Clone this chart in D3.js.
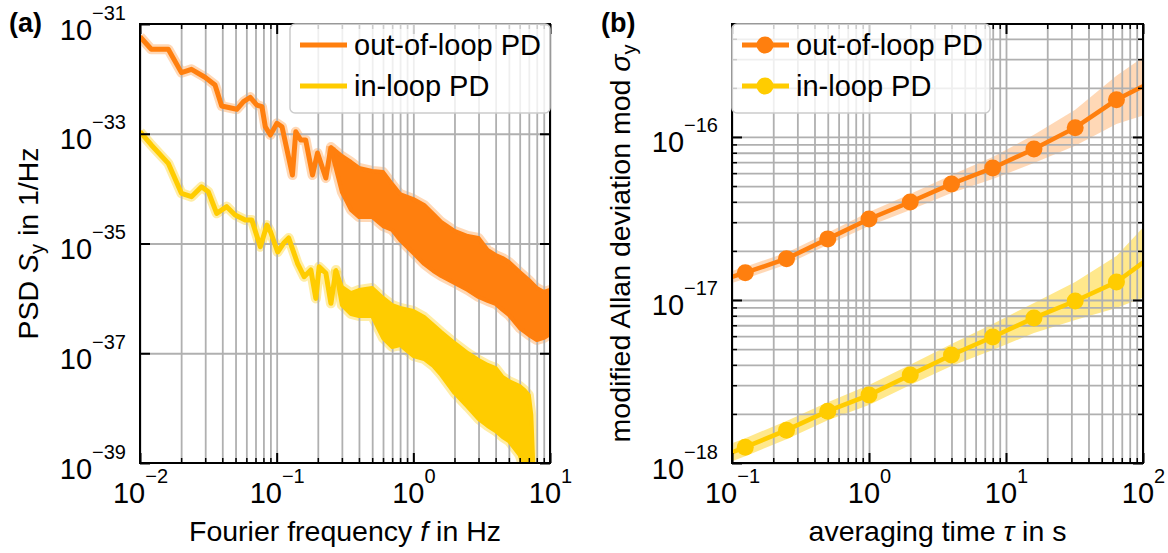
<!DOCTYPE html>
<html><head><meta charset="utf-8">
<script src="https://cdn.jsdelivr.net/npm/d3@7"></script>
<style>
body{margin:0;background:#fff}
text{font-family:"Liberation Sans",Arial,Helvetica,sans-serif;fill:#000}
</style>
</head><body>
<svg id="c" width="1168" height="553"></svg>
<script>
// ---------- DATA ----------
const seriesNames = ["out-of-loop PD", "in-loop PD"];
const seriesColors = ["#ff7f0e", "#ffcc00"];

// (a) PSD: sparse low-frequency part (line)
const psdOutF = [0.0100,0.0121,0.0161,0.0201,0.0238,0.0299,0.0354,0.0396,0.0511,0.0572,0.0641,0.0716,0.0780,0.0826,0.0899,0.1005,0.1094,0.1304,0.138,0.150,0.163,0.183,0.199,0.229,0.250];
const psdOutS = [5.87e-32,3.46e-32,3.46e-32,1.30e-32,1.49e-32,1.07e-32,7.73e-33,3.20e-33,2.79e-33,3.84e-33,4.62e-33,3.34e-33,3.11e-33,1.34e-33,9.49e-34,1.55e-33,1.34e-33,1.77e-34,1.09e-33,7.69e-34,7.69e-34,1.77e-34,4.46e-34,1.56e-34,5.81e-34];
// dense high-frequency part (upper / lower envelope of the noisy trace)
const psdOutDenseF = [0.25,0.3,0.35,0.4,0.5,0.6,0.7,0.8,1.0,1.2,1.4,1.6,2.0,2.5,3,3.5,4,4.5,5,6,7,8,9,10];
const psdOutUp = [5.73e-34,3.93e-34,3.06e-34,2.38e-34,2.10e-34,2.01e-34,1.21e-34,7.98e-35,6.47e-35,5.03e-35,3.45e-35,2.47e-35,1.69e-35,1.37e-35,1.26e-35,7.61e-36,6.17e-36,5.44e-36,4.60e-36,3.02e-36,2.16e-36,1.55e-36,1.31e-36,1.42e-36];
const psdOutLo = [5.06e-34,8.68e-35,4.08e-35,3.04e-35,3.04e-35,2.08e-35,1.76e-35,1.16e-35,6.71e-36,4.23e-36,3.15e-36,2.56e-36,1.91e-36,1.42e-36,1.06e-36,8.96e-37,7.90e-37,6.14e-37,4.98e-37,2.88e-37,2.15e-37,1.74e-37,1.90e-37,2.24e-37];

const psdInF = [0.0100,0.0121,0.0161,0.0201,0.0238,0.0282,0.0316,0.0364,0.0431,0.0497,0.0589,0.0658,0.0759,0.0849,0.0903,0.1017,0.1126,0.1225,0.142,0.1588,0.1778,0.1935,0.2046,0.2292,0.2495,0.2716];
const psdInS = [1.09e-33,6.24e-34,2.89e-34,8.22e-35,7.13e-35,1.08e-34,8.79e-35,3.55e-35,4.69e-35,3.31e-35,2.68e-35,2.68e-35,8.74e-36,2.17e-35,1.62e-35,7.00e-36,1.02e-35,1.26e-35,4.36e-36,2.48e-36,3.29e-36,1.00e-36,3.78e-36,2.86e-36,8.13e-37,3.29e-36];
const psdInDenseF = [0.2716,0.3,0.35,0.4,0.5,0.6,0.7,0.8,1.0,1.2,1.4,1.6,2.0,2.5,3,3.5,4,4.5,5,6,6.5,7,7.3,7.6];
const psdInUp = [3.29e-36,1.61e-36,1.25e-36,1.42e-36,1.55e-36,1.02e-36,7.57e-37,6.68e-37,5.89e-37,4.58e-37,3.27e-37,2.44e-37,1.54e-37,1.01e-37,7.53e-38,6.11e-38,5.38e-38,3.69e-38,3.12e-38,2.53e-38,2.14e-38,1.73e-38,7.49e-39,6.0e-40];
const psdInLo = [3.02e-36,7.57e-37,5.19e-37,4.77e-37,4.77e-37,1.90e-37,1.30e-37,1.41e-37,8.91e-38,7.86e-38,5.86e-38,4.01e-38,1.89e-38,1.05e-38,6.34e-39,4.72e-39,3.83e-39,2.98e-39,2.52e-39,1.40e-39,7.45e-40,4.9e-40,4.0e-40,4.0e-40];

// (b) modified Allan deviation
const tau = [0.0625,0.125,0.25,0.5,1,2,4,8,16,32,64,128];
const adevOut   = [1.22e-17,1.47e-17,1.79e-17,2.37e-17,3.14e-17,3.99e-17,5.15e-17,6.45e-17,8.44e-17,1.14e-16,1.69e-16,2.27e-16];
const adevOutUp = [1.33e-17,1.60e-17,1.95e-17,2.58e-17,3.47e-17,4.47e-17,5.85e-17,7.53e-17,1.03e-16,1.47e-16,2.37e-16,3.57e-16];
const adevOutLo = [1.12e-17,1.35e-17,1.65e-17,2.18e-17,2.84e-17,3.56e-17,4.53e-17,5.52e-17,6.92e-17,8.84e-17,1.20e-16,1.45e-16];
const adevIn    = [1.00e-18,1.25e-18,1.59e-18,2.08e-18,2.61e-18,3.47e-18,4.60e-18,5.93e-18,7.76e-18,9.86e-18,1.29e-17,1.97e-17];
const adevInUp  = [1.14e-18,1.42e-18,1.81e-18,2.36e-18,3.01e-18,4.00e-18,5.37e-18,7.13e-18,9.59e-18,1.29e-17,1.86e-17,3.47e-17];
const adevInLo  = [0.88e-18,1.10e-18,1.40e-18,1.83e-18,2.27e-18,3.01e-18,3.94e-18,4.93e-18,6.28e-18,7.54e-18,8.93e-18,1.12e-17];

// ticks
const psdXTicks = [1e-2,1e-1,1e0,1e1];
const psdXTickExp = ["\u22122","\u22121","0","1"];
const psdYTicks = [1e-39,1e-37,1e-35,1e-33,1e-31];
const psdYTickExp = ["\u221239","\u221237","\u221235","\u221233","\u221231"];
const adevXTicks = [1e-1,1e0,1e1,1e2];
const adevXTickExp = ["\u22121","0","1","2"];
const adevYTicks = [1e-18,1e-17,1e-16];
const adevYTickExp = ["\u221218","\u221217","\u221216"];

// ---------- DRAWING ----------
const svg = d3.select("#c");
const GRID = "#b0b0b0";
const A = {x0:140, x1:550, y0:24, y1:463};
const B = {x0:732, x1:1143, y0:24, y1:463};

const xA = d3.scaleLog().domain([1e-2,1e1]).range([A.x0,A.x1]);
const yA = d3.scaleLog().domain([1e-39,1e-31]).range([A.y1,A.y0]);
const xB = d3.scaleLog().domain([1e-1,1e2]).range([B.x0,B.x1]);
const yB = d3.scaleLog().domain([1e-18,4.93e-16]).range([B.y1,B.y0]);

const defs = svg.append("defs");
function clip(id, P){
  defs.append("clipPath").attr("id",id).append("rect")
    .attr("x",P.x0).attr("y",P.y0).attr("width",P.x1-P.x0).attr("height",P.y1-P.y0);
}
clip("clipA",A); clip("clipB",B);

function isPow10(v){ const l=Math.log10(v); return Math.abs(l-Math.round(l))<1e-6; }

function grid(P, x, y, xVals, yVals){
  const g = svg.append("g");
  g.append("g").attr("transform",`translate(0,${P.y1})`)
    .call(d3.axisBottom(x).tickValues(xVals).tickSize(-(P.y1-P.y0)).tickFormat(""))
    .call(s=>{s.select(".domain").remove(); s.selectAll("line").attr("stroke",GRID).attr("stroke-width",1.8);});
  g.append("g").attr("transform",`translate(${P.x0},0)`)
    .call(d3.axisLeft(y).tickValues(yVals).tickSize(-(P.x1-P.x0)).tickFormat(""))
    .call(s=>{s.select(".domain").remove(); s.selectAll("line").attr("stroke",GRID).attr("stroke-width",1.8);});
}

function powLabels(sel, exps, kind){
  sel.selectAll(".tick text").each(function(d,i){
    const t = d3.select(this);
    t.text(null).attr("font-size",29).attr("fill","#000");
    if(kind==="x"){ t.attr("y",40).attr("dy",0).attr("text-anchor","middle"); }
    else { t.attr("x",-14).attr("y",15).attr("dy",0).attr("text-anchor","end"); }
    t.append("tspan").text("10");
    t.append("tspan").attr("font-size",20).attr("dy",-20).text(exps[i]);
  });
}

function axes(P, x, y, xMaj, xExp, yMaj, yExp, xMin, yMin){
  const g = svg.append("g");
  const style = (s,w)=>{ s.select(".domain").remove(); s.selectAll("line").attr("stroke","#000").attr("stroke-width",w); };
  g.append("g").attr("transform",`translate(0,${P.y1})`)
    .call(d3.axisBottom(x).tickValues(xMaj).tickSizeInner(-10).tickSizeOuter(0).tickFormat(()=>"x"))
    .call(s=>style(s,2)).call(s=>powLabels(s,xExp,"x"));
  g.append("g").attr("transform",`translate(0,${P.y0})`)
    .call(d3.axisTop(x).tickValues(xMaj).tickSizeInner(-10).tickSizeOuter(0).tickFormat(""))
    .call(s=>style(s,2));
  g.append("g").attr("transform",`translate(${P.x0},0)`)
    .call(d3.axisLeft(y).tickValues(yMaj).tickSizeInner(-10).tickSizeOuter(0).tickFormat(()=>"y"))
    .call(s=>style(s,2)).call(s=>powLabels(s,yExp,"y"));
  g.append("g").attr("transform",`translate(${P.x1},0)`)
    .call(d3.axisRight(y).tickValues(yMaj).tickSizeInner(-10).tickSizeOuter(0).tickFormat(""))
    .call(s=>style(s,2));
  if(xMin.length){
    g.append("g").attr("transform",`translate(0,${P.y1})`)
      .call(d3.axisBottom(x).tickValues(xMin).tickSizeInner(-5).tickSizeOuter(0).tickFormat(""))
      .call(s=>style(s,1.5));
    g.append("g").attr("transform",`translate(0,${P.y0})`)
      .call(d3.axisTop(x).tickValues(xMin).tickSizeInner(-5).tickSizeOuter(0).tickFormat(""))
      .call(s=>style(s,1.5));
  }
  if(yMin.length){
    g.append("g").attr("transform",`translate(${P.x0},0)`)
      .call(d3.axisLeft(y).tickValues(yMin).tickSizeInner(-5).tickSizeOuter(0).tickFormat(""))
      .call(s=>style(s,1.5));
    g.append("g").attr("transform",`translate(${P.x1},0)`)
      .call(d3.axisRight(y).tickValues(yMin).tickSizeInner(-5).tickSizeOuter(0).tickFormat(""))
      .call(s=>style(s,1.5));
  }
  g.append("rect").attr("x",P.x0).attr("y",P.y0).attr("width",P.x1-P.x0).attr("height",P.y1-P.y0)
    .attr("fill","none").attr("stroke","#000").attr("stroke-width",2);
}

// ---------- Panel (a) ----------
const xAall = xA.ticks();
const xAminor = xAall.filter(v=>!isPow10(v));
const dA = svg.append("g").attr("clip-path","url(#clipA)");
const psdLine = d3.line().x(d=>xA(d[0])).y(d=>yA(d[1]));
const psdArea = d3.area().x(d=>xA(d[0])).y0(d=>yA(d[2])).y1(d=>yA(d[1]));
const outSparse = psdOutF.map((f,i)=>[f,psdOutS[i]]);
const outDense = psdOutDenseF.map((f,i)=>[f,psdOutUp[i],psdOutLo[i]]);
const inSparse = psdInF.map((f,i)=>[f,psdInS[i]]);
const inDense = psdInDenseF.map((f,i)=>[f,psdInUp[i],psdInLo[i]]);
[[outSparse,outDense,seriesColors[0],0.3],[inSparse,inDense,seriesColors[1],0.35]].forEach(([sp,de,c,o])=>{
  dA.append("path").attr("d",psdLine(sp)).attr("fill","none").attr("stroke",c).attr("stroke-opacity",o)
    .attr("stroke-width",10).attr("stroke-linejoin","round");
  dA.append("path").attr("d",psdArea(de)).attr("fill",c).attr("fill-opacity",o).attr("stroke",c).attr("stroke-opacity",o)
    .attr("stroke-width",10).attr("stroke-linejoin","round");
});
grid(A, xA, yA, xAall, [1e-37,1e-35,1e-33]);
const dA2 = svg.append("g").attr("clip-path","url(#clipA)");
[[outSparse,outDense,seriesColors[0]],[inSparse,inDense,seriesColors[1]]].forEach(([sp,de,c])=>{
  dA2.append("path").attr("d",psdLine(sp)).attr("fill","none").attr("stroke",c).attr("stroke-width",5).attr("stroke-linejoin","round");
  dA2.append("path").attr("d",psdArea(de)).attr("fill",c).attr("stroke",c).attr("stroke-width",4).attr("stroke-linejoin","round");
});
axes(A, xA, yA, psdXTicks, psdXTickExp, psdYTicks, psdYTickExp, xAminor, []);

// ---------- Panel (b) ----------
const xBall = xB.ticks();
const xBminor = xBall.filter(v=>!isPow10(v));
const yBall = yB.ticks();
const yBminor = yBall.filter(v=>!isPow10(v));
const dB = svg.append("g").attr("clip-path","url(#clipB)");
const band = d3.area().x((d,i)=>xB(tau[i])).y0(d=>yB(d[1])).y1(d=>yB(d[0]));
const outBand = adevOutUp.map((u,i)=>[u,adevOutLo[i]]);
const inBand = adevInUp.map((u,i)=>[u,adevInLo[i]]);
dB.append("path").attr("d",band(outBand)).attr("fill",seriesColors[0]).attr("fill-opacity",0.3);
dB.append("path").attr("d",band(inBand)).attr("fill",seriesColors[1]).attr("fill-opacity",0.45);
grid(B, xB, yB, xBall, yBall);
const dB2 = svg.append("g").attr("clip-path","url(#clipB)");
const adLine = d3.line().x((d,i)=>xB(tau[i])).y(d=>yB(d));
[[adevOut,seriesColors[0]],[adevIn,seriesColors[1]]].forEach(([vals,c])=>{
  dB2.append("path").attr("d",adLine(vals)).attr("fill","none").attr("stroke",c).attr("stroke-width",4.5);
  dB2.selectAll(null).data(vals).enter().append("circle")
    .attr("cx",(d,i)=>xB(tau[i])).attr("cy",d=>yB(d)).attr("r",8.5).attr("fill",c);
});
axes(B, xB, yB, adevXTicks, adevXTickExp, adevYTicks, adevYTickExp, xBminor, yBminor);

// ---------- Legends ----------
function legend(x0, y0, w, h, markers){
  const g = svg.append("g");
  g.append("rect").attr("x",x0).attr("y",y0).attr("width",w).attr("height",h).attr("rx",5)
    .attr("fill","#fff").attr("fill-opacity",0.8).attr("stroke","#cccccc").attr("stroke-width",1.5);
  seriesNames.forEach((n,i)=>{
    const cy = y0 + 21 + i*41;
    g.append("line").attr("x1",x0+10).attr("x2",x0+57).attr("y1",cy).attr("y2",cy)
      .attr("stroke",seriesColors[i]).attr("stroke-width",5);
    if(markers) g.append("circle").attr("cx",x0+33).attr("cy",cy).attr("r",8.5).attr("fill",seriesColors[i]);
    g.append("text").attr("x",x0+64).attr("y",cy+10).attr("font-size",29).text(n);
  });
}
legend(290, 24, 260, 89, false);
legend(732, 24, 258, 89, true);

// ---------- Labels ----------
svg.append("text").attr("x",9).attr("y",32).attr("font-size",27).attr("font-weight","bold").text("(a)");
svg.append("text").attr("x",601).attr("y",32).attr("font-size",27).attr("font-weight","bold").text("(b)");

const xl1 = svg.append("text").attr("x",(A.x0+A.x1)/2).attr("y",541).attr("text-anchor","middle").attr("font-size",28.5);
xl1.append("tspan").text("Fourier frequency ");
xl1.append("tspan").attr("font-style","italic").text("f");
xl1.append("tspan").text(" in Hz");

const xl2 = svg.append("text").attr("x",(B.x0+B.x1)/2).attr("y",541).attr("text-anchor","middle").attr("font-size",28.5);
xl2.append("tspan").text("averaging time ");
xl2.append("tspan").attr("font-style","italic").text("\u03c4");
xl2.append("tspan").text(" in s");

const yl1 = svg.append("text").attr("transform",`translate(38,${(A.y0+A.y1)/2}) rotate(-90)`)
  .attr("text-anchor","middle").attr("font-size",28.5);
yl1.append("tspan").text("PSD ");
yl1.append("tspan").attr("font-style","italic").text("S");
yl1.append("tspan").attr("font-size",20).attr("dy",6).text("y");
yl1.append("tspan").attr("dy",-6).text(" in 1/Hz");

const yl2 = svg.append("text").attr("transform",`translate(630,${(B.y0+B.y1)/2}) rotate(-90)`)
  .attr("text-anchor","middle").attr("font-size",28.5);
yl2.append("tspan").text("modified Allan deviation mod ");
yl2.append("tspan").attr("font-style","italic").text("\u03c3");
yl2.append("tspan").attr("font-size",20).attr("dy",6).text("y");
</script>
</body></html>
